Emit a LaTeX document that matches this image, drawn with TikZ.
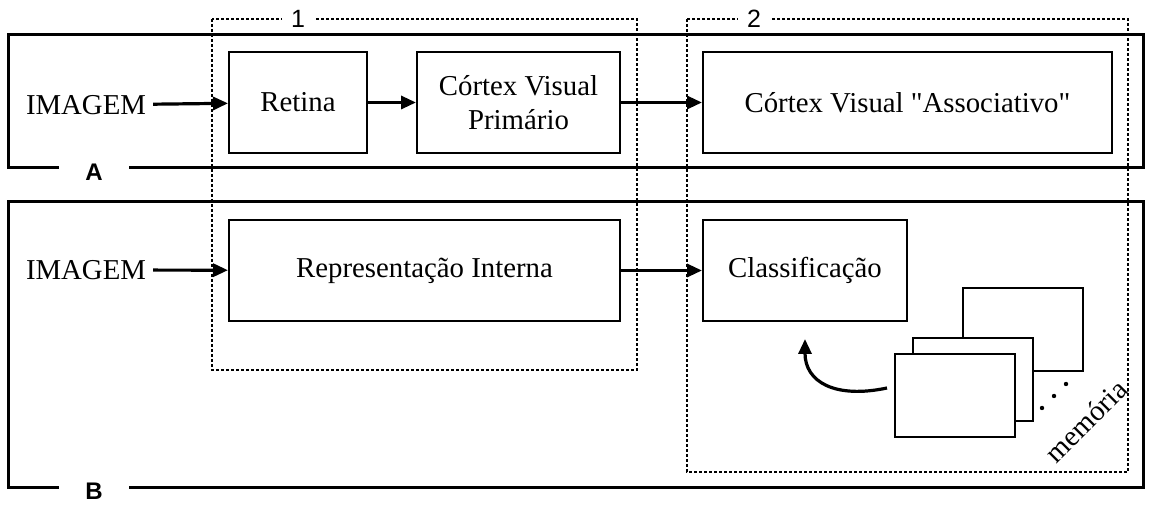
\documentclass[tikz,border=0pt]{standalone}
\usepackage{fontspec}
\setmainfont{Liberation Serif}[Ligatures=TeXOff]
\setsansfont{Liberation Sans}
\usepackage{tikz}
\usetikzlibrary{calc,arrows.meta}

\tikzset{
  frame/.style={line width=1.5pt},
  group/.style={line width=1pt, dash pattern=on 1.5pt off 1pt},
  txt/.style={font=\rmfamily\fontsize{14.4}{17}\selectfont, align=center},
  box/.style={txt, draw, line width=1pt, minimum height=50.5pt, inner sep=0pt},
  sheet/.style={draw, fill=white, line width=1pt, minimum width=60pt, minimum height=41.5pt, inner sep=0pt},
  flow/.style={line width=1.6pt, -{Triangle[length=7.5pt,width=6.5pt]}},
  tag/.style={fill=white, inner ysep=1pt, font=\sffamily\bfseries\fontsize{12}{14}\selectfont, inner xsep=13pt},
  num/.style={fill=white, inner ysep=1pt, font=\sffamily\fontsize{12.5}{14}\selectfont, inner xsep=4.5pt}
}

\begin{document}
\begin{tikzpicture}[x=0.5pt, y=-0.5pt]
    \useasboundingbox (0,0) rectangle (1151,506);

    % A and B frames
    \draw[frame] (8,35) rectangle (1143,168);
    \draw[frame] (8,202) rectangle (1143,488);
    \node (alabel) [tag] at (94,172) {A};
    \node (blabel) [tag] at (94,491) {B};

    % stage 1 and stage 2
    \draw[group] (212,19) rectangle (637,370);
    \draw[group] (687,19) rectangle (1128,472);
    \node (onelabel) [num] at (298,19) {1};
    \node (twolabel) [num] at (754,19) {2};

    % row A
    \node (imga) [txt] at (86,105) {IMAGEM};
    \node (retina) [box, minimum width=69pt] at (298,102.5) {Retina};
    \node (prim) [box, minimum width=101.5pt] at (518.5,102.5) {Córtex Visual\\Primário};
    \node (assoc) [box, minimum width=204.5pt] at (907.5,102.5) {Córtex Visual "Associativo"};

    % row B
    \node (imgb) [txt] at (86,270) {IMAGEM};
    \node (repr) [box, minimum width=195.5pt] at (424.5,270.5) {Representação Interna};
    \node (classif) [box, minimum width=102pt] at (805,270.5) {Classificação};

    \foreach \c/\d in {imga/retina,retina/prim,prim/assoc,imgb/repr,repr/classif} {\draw[flow] (\c) -- (\d);}

    % memory sheets, back to front
    \node (mback) [sheet] at (1023,329.5) {};
    \node (mmid) [sheet] at (972.5,380) {};
    \node (mfront) [sheet] at (955,396) {};
    \foreach \p in {(1042,408),(1054,396),(1066,384)} {\fill \p circle (2.2);}
    \node (mem) [txt, rotate=45] at (1086,421) {memória};

    \coordinate (back) at ($(mfront.west)+(-7,-8)$);
    \coordinate (up) at ($(classif.south)+(0,17)$);
    \draw[flow] (back) .. controls (835,399) and (805,382) .. (up);
\end{tikzpicture}
\end{document}
